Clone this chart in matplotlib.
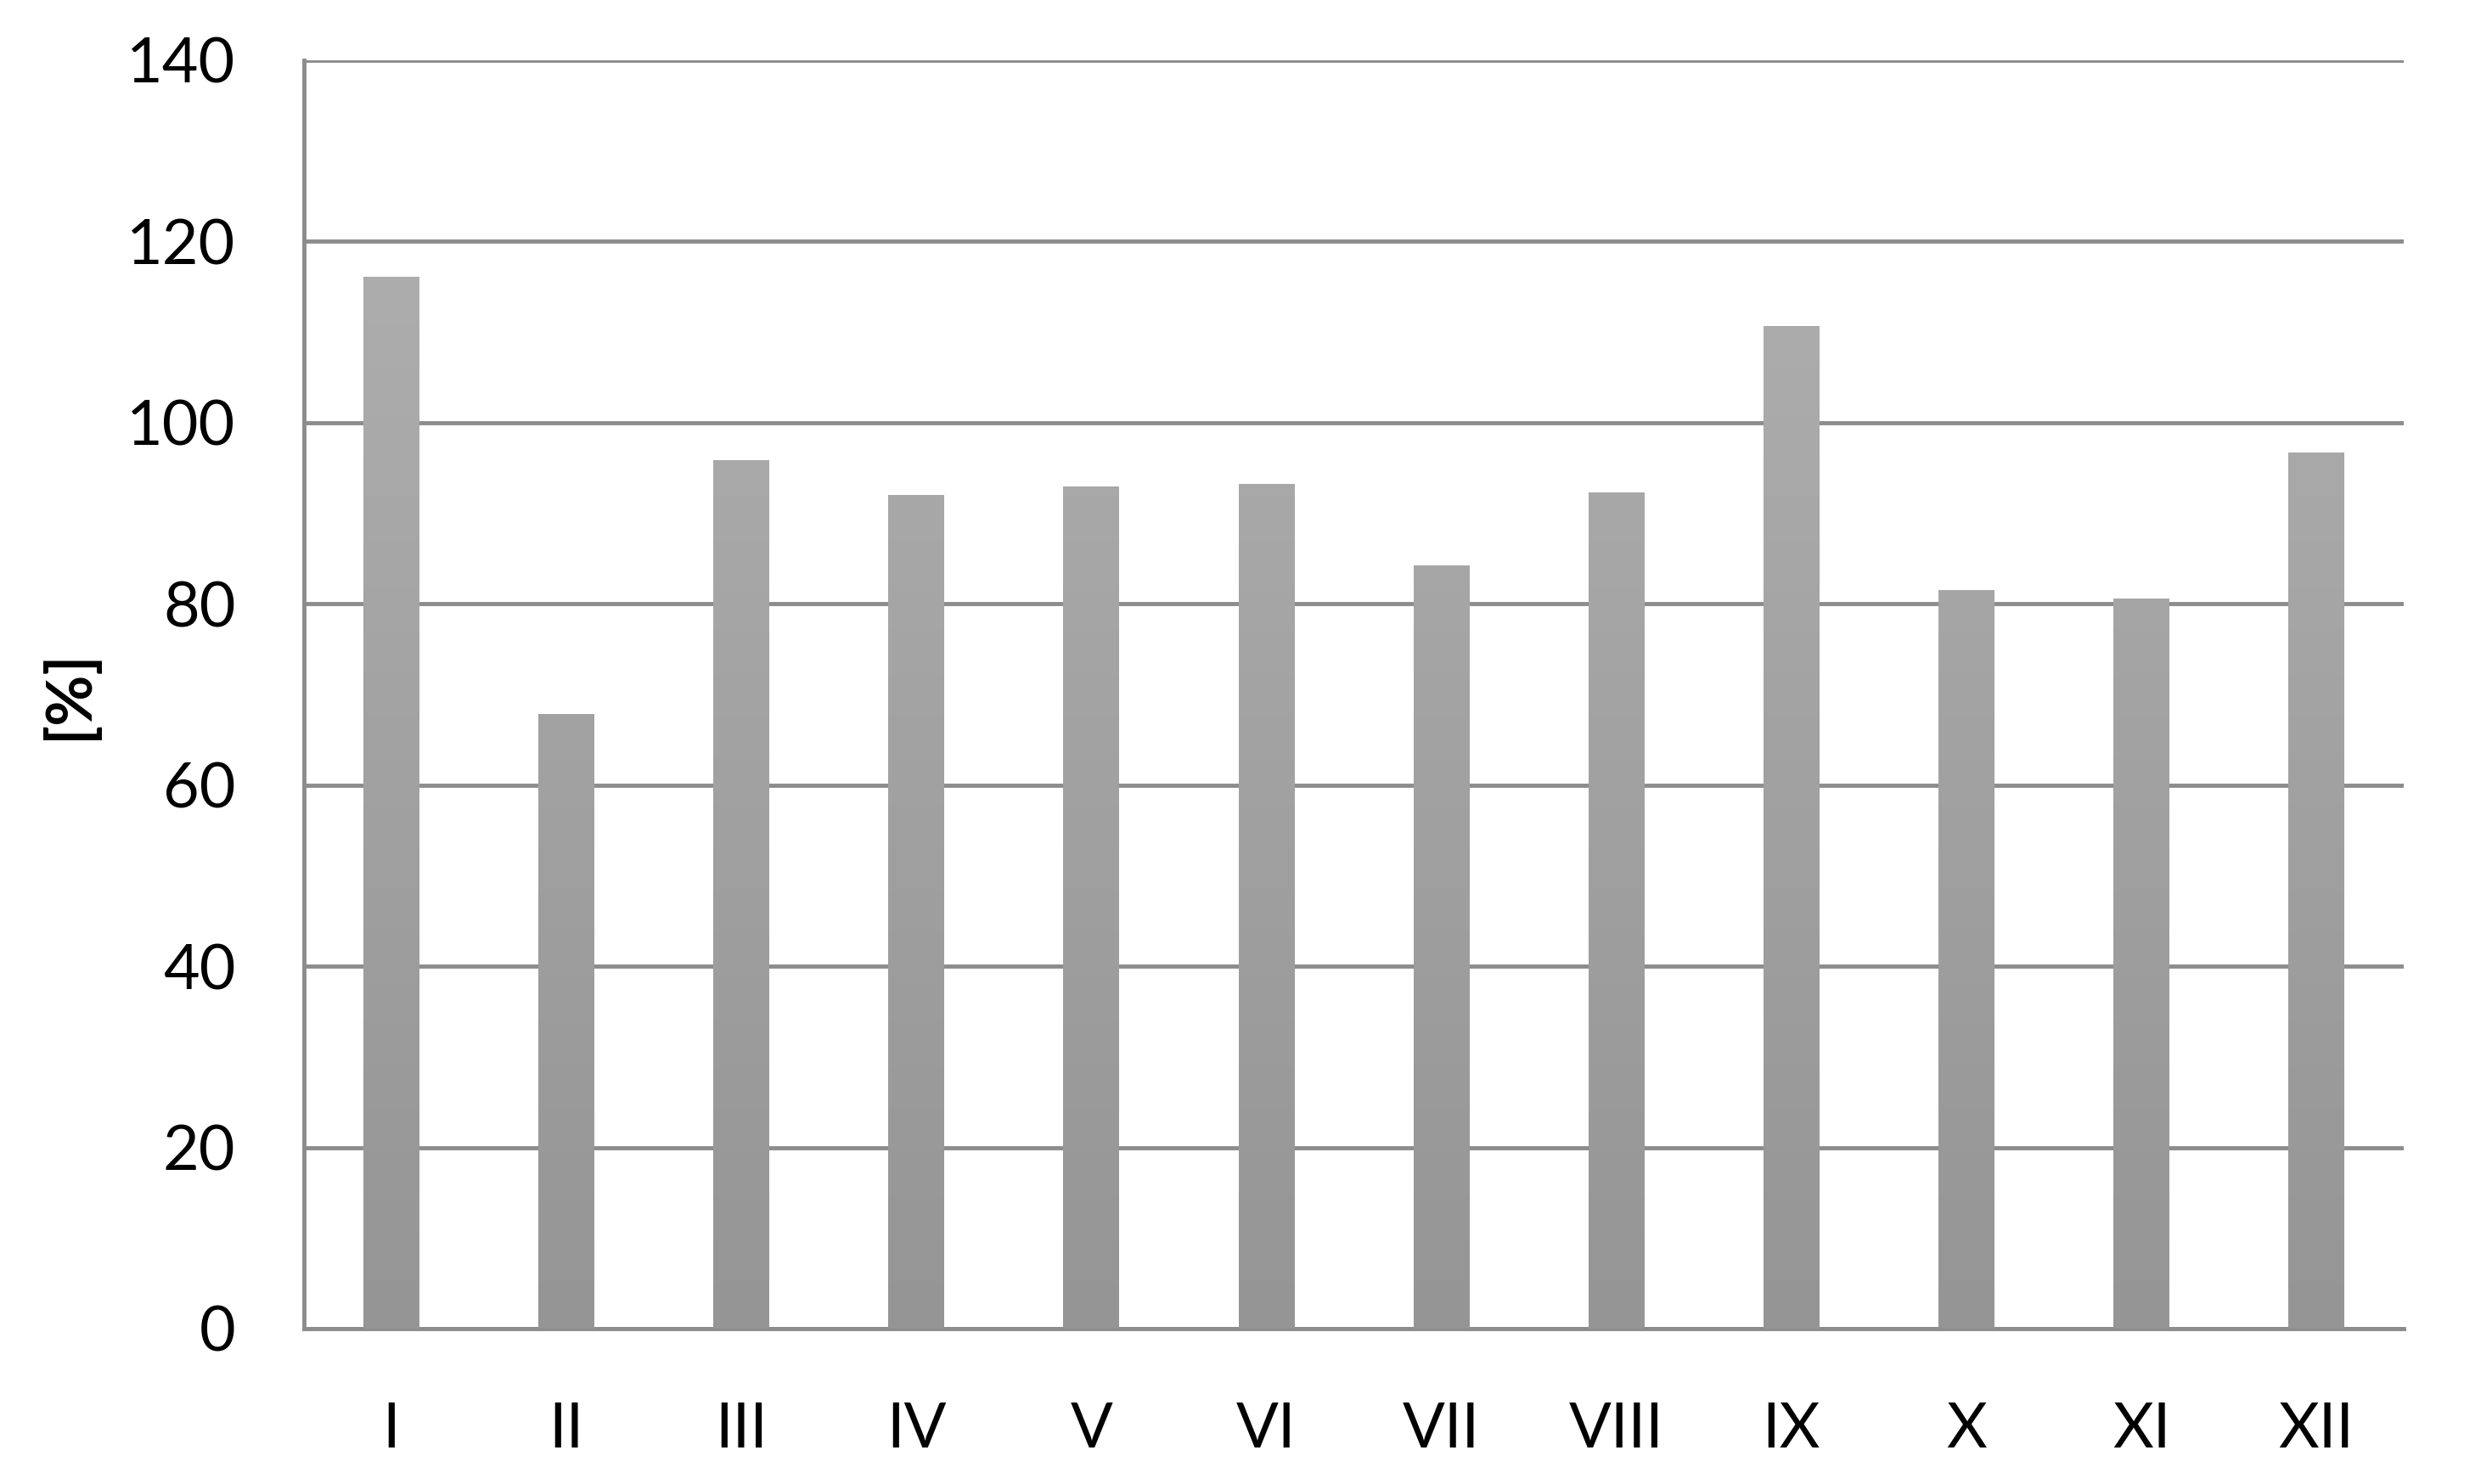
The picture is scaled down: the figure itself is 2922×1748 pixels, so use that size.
import numpy as np
import matplotlib.pyplot as plt
from matplotlib.colors import LinearSegmentedColormap

months = ['I', 'II', 'III', 'IV', 'V', 'VI', 'VII', 'VIII', 'IX', 'X', 'XI', 'XII']
values = [116.1, 67.8, 95.9, 92.0, 93.0, 93.2, 84.2, 92.3, 110.7, 81.5, 80.6, 96.7]
yticks = [0, 20, 40, 60, 80, 100, 120, 140]

plt.rcParams['font.family'] = ['Lato', 'DejaVu Sans']

fig = plt.figure(figsize=(29.22, 17.48), dpi=100)
ax = fig.add_axes([0.1225, 0.1047, 0.8464, 0.8547])

grid_col = '#8c8c8c'
x = np.arange(len(months))
bars = ax.bar(x, values, width=0.32, color='#a4a4a4', zorder=2)

# vertical grey gradient inside each bar
cmap = LinearSegmentedColormap.from_list('g', ['#959595', '#b2b2b2'])
grad = np.linspace(0, 1, 256).reshape(-1, 1)
for b in bars:
    bx = b.get_x()
    im = ax.imshow(grad, cmap=cmap, aspect='auto', origin='lower',
                   extent=[bx, bx + b.get_width(), 0, 140], zorder=3)
    im.set_clip_path(b)

ax.set_xlim(-0.5, len(months) - 0.5)
ax.set_ylim(0, 140)
ax.set_yticks(yticks)
ax.set_xticks(x)
ax.set_xticklabels(months)
ax.yaxis.grid(True, color=grid_col, linewidth=3.5, zorder=1)
ax.set_axisbelow(True)

for s in ['top', 'right']:
    ax.spines[s].set_visible(False)
for s in ['left', 'bottom']:
    ax.spines[s].set_color(grid_col)
    ax.spines[s].set_linewidth(3.5)

ax.tick_params(axis='y', length=0, pad=58, labelsize=53)
ax.tick_params(axis='x', length=0, pad=62, labelsize=53)
ax.set_ylabel('[%]', fontsize=53, fontweight='bold')
ax.yaxis.set_label_coords(-0.098, 0.5)

plt.savefig('out.png', dpi=100)
